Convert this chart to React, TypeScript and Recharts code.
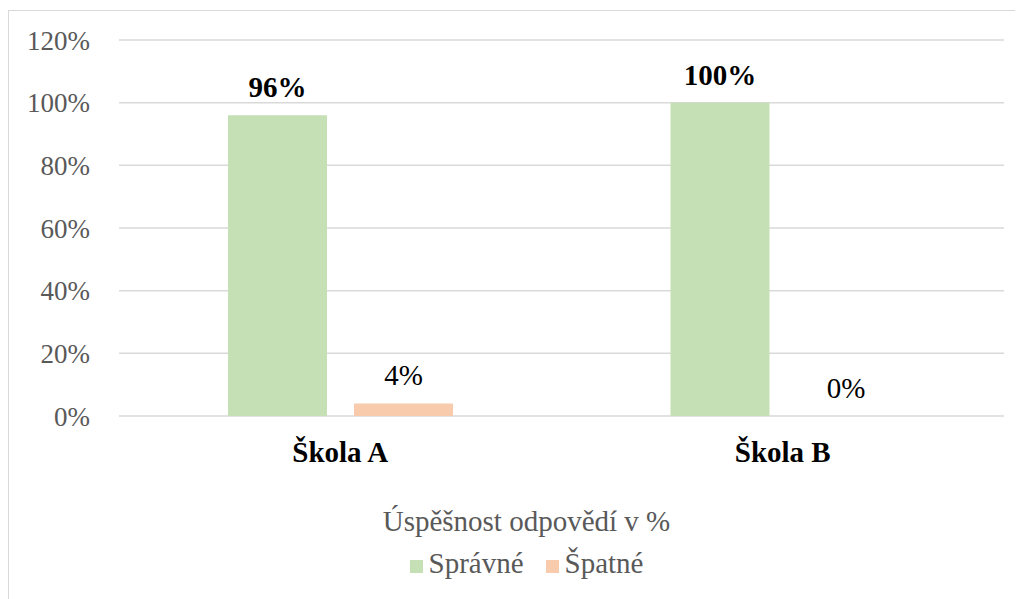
import { BarChart, Bar, XAxis, YAxis, CartesianGrid, Legend, LabelList, Cell } from 'recharts';

const schools = ['Škola A', 'Škola B'];
const spravne = [0.96, 1.0];
const spatne = [0.04, 0];
const yTicks = [0, 0.2, 0.4, 0.6, 0.8, 1.0, 1.2];

const chartData = schools.map((s, i) => ({
  name: s,
  spravne: spravne[i],
  spatne: spatne[i],
}));

const FONT = '"Liberation Serif", "Times New Roman", serif';
const GREEN = '#C5E0B4';
const ORANGE = '#F8CBAD';

const pct = (v: number) => `${Math.round(v * 100)}%`;

// draws the value above the bar, also for zero-height bars
function makeLabel(bold: boolean) {
  return (props: any) => {
    const { x, y, width, height, value } = props;
    if (value == null) return null;
    // zero bars get a 1px placeholder so the label still renders; anchor to baseline
    const top = Number(value) === 0 ? Number(y) + Number(height) : Number(y);
    return (
      <text
        x={Number(x) + Number(width) / 2}
        y={top - 18}
        textAnchor="middle"
        fontFamily={FONT}
        fontSize={29}
        fontWeight={bold ? 'bold' : 'normal'}
        fill="#000"
      >
        {pct(Number(value))}
      </text>
    );
  };
}

function LegendBox() {
  return (
    <div style={{ fontFamily: FONT, color: '#595959', textAlign: 'center', fontSize: 29 }}>
      <div style={{ lineHeight: '34px' }}>Úspěšnost odpovědí v %</div>
      <div style={{ marginTop: 8, lineHeight: '34px' }}>
        <span style={{ display: 'inline-block', width: 13, height: 13, background: GREEN, marginRight: 6 }} />
        <span>Správné</span>
        <span style={{ display: 'inline-block', width: 13, height: 13, background: ORANGE, marginLeft: 22, marginRight: 6 }} />
        <span>Špatné</span>
      </div>
    </div>
  );
}

export default function App() {
  return (
    <div
      style={{
        marginTop: 2,
        width: 1015,
        height: 590,
        borderLeft: '1px solid #d9d9d9',
        borderTop: '1px solid #d9d9d9',
        overflow: 'hidden',
      }}
    >
      <BarChart
        width={1015}
        height={589}
        data={chartData}
        margin={{ top: 29, right: 20, bottom: 0, left: 0 }}
        barGap={27}
        barSize={99}
      >
        <CartesianGrid vertical={false} stroke="#d9d9d9" strokeWidth={1.5} />
        <XAxis
          dataKey="name"
          axisLine={false}
          tickLine={false}
          tickMargin={19}
          height={108}
          tick={{ fontFamily: FONT, fontSize: 29, fontWeight: 'bold', fill: '#000' }}
        />
        <YAxis
          domain={[0, 1.2]}
          ticks={yTicks}
          tickFormatter={pct}
          axisLine={false}
          tickLine={false}
          width={110}
          tickMargin={23}
          tick={{ fontFamily: FONT, fontSize: 27, fill: '#595959' }}
        />
        <Legend
          content={<LegendBox />}
          wrapperStyle={{ left: 10, width: 1015, top: 493 }}
        />
        <Bar dataKey="spravne" name="Správné" fill={GREEN} isAnimationActive={false}>
          <LabelList dataKey="spravne" content={makeLabel(true)} />
        </Bar>
        <Bar
          dataKey="spatne"
          name="Špatné"
          fill={ORANGE}
          minPointSize={1}
          isAnimationActive={false}
        >
          {spatne.map((v, i) => (
            <Cell key={i} fill={v === 0 ? 'transparent' : ORANGE} />
          ))}
          <LabelList dataKey="spatne" content={makeLabel(false)} />
        </Bar>
      </BarChart>
    </div>
  );
}
